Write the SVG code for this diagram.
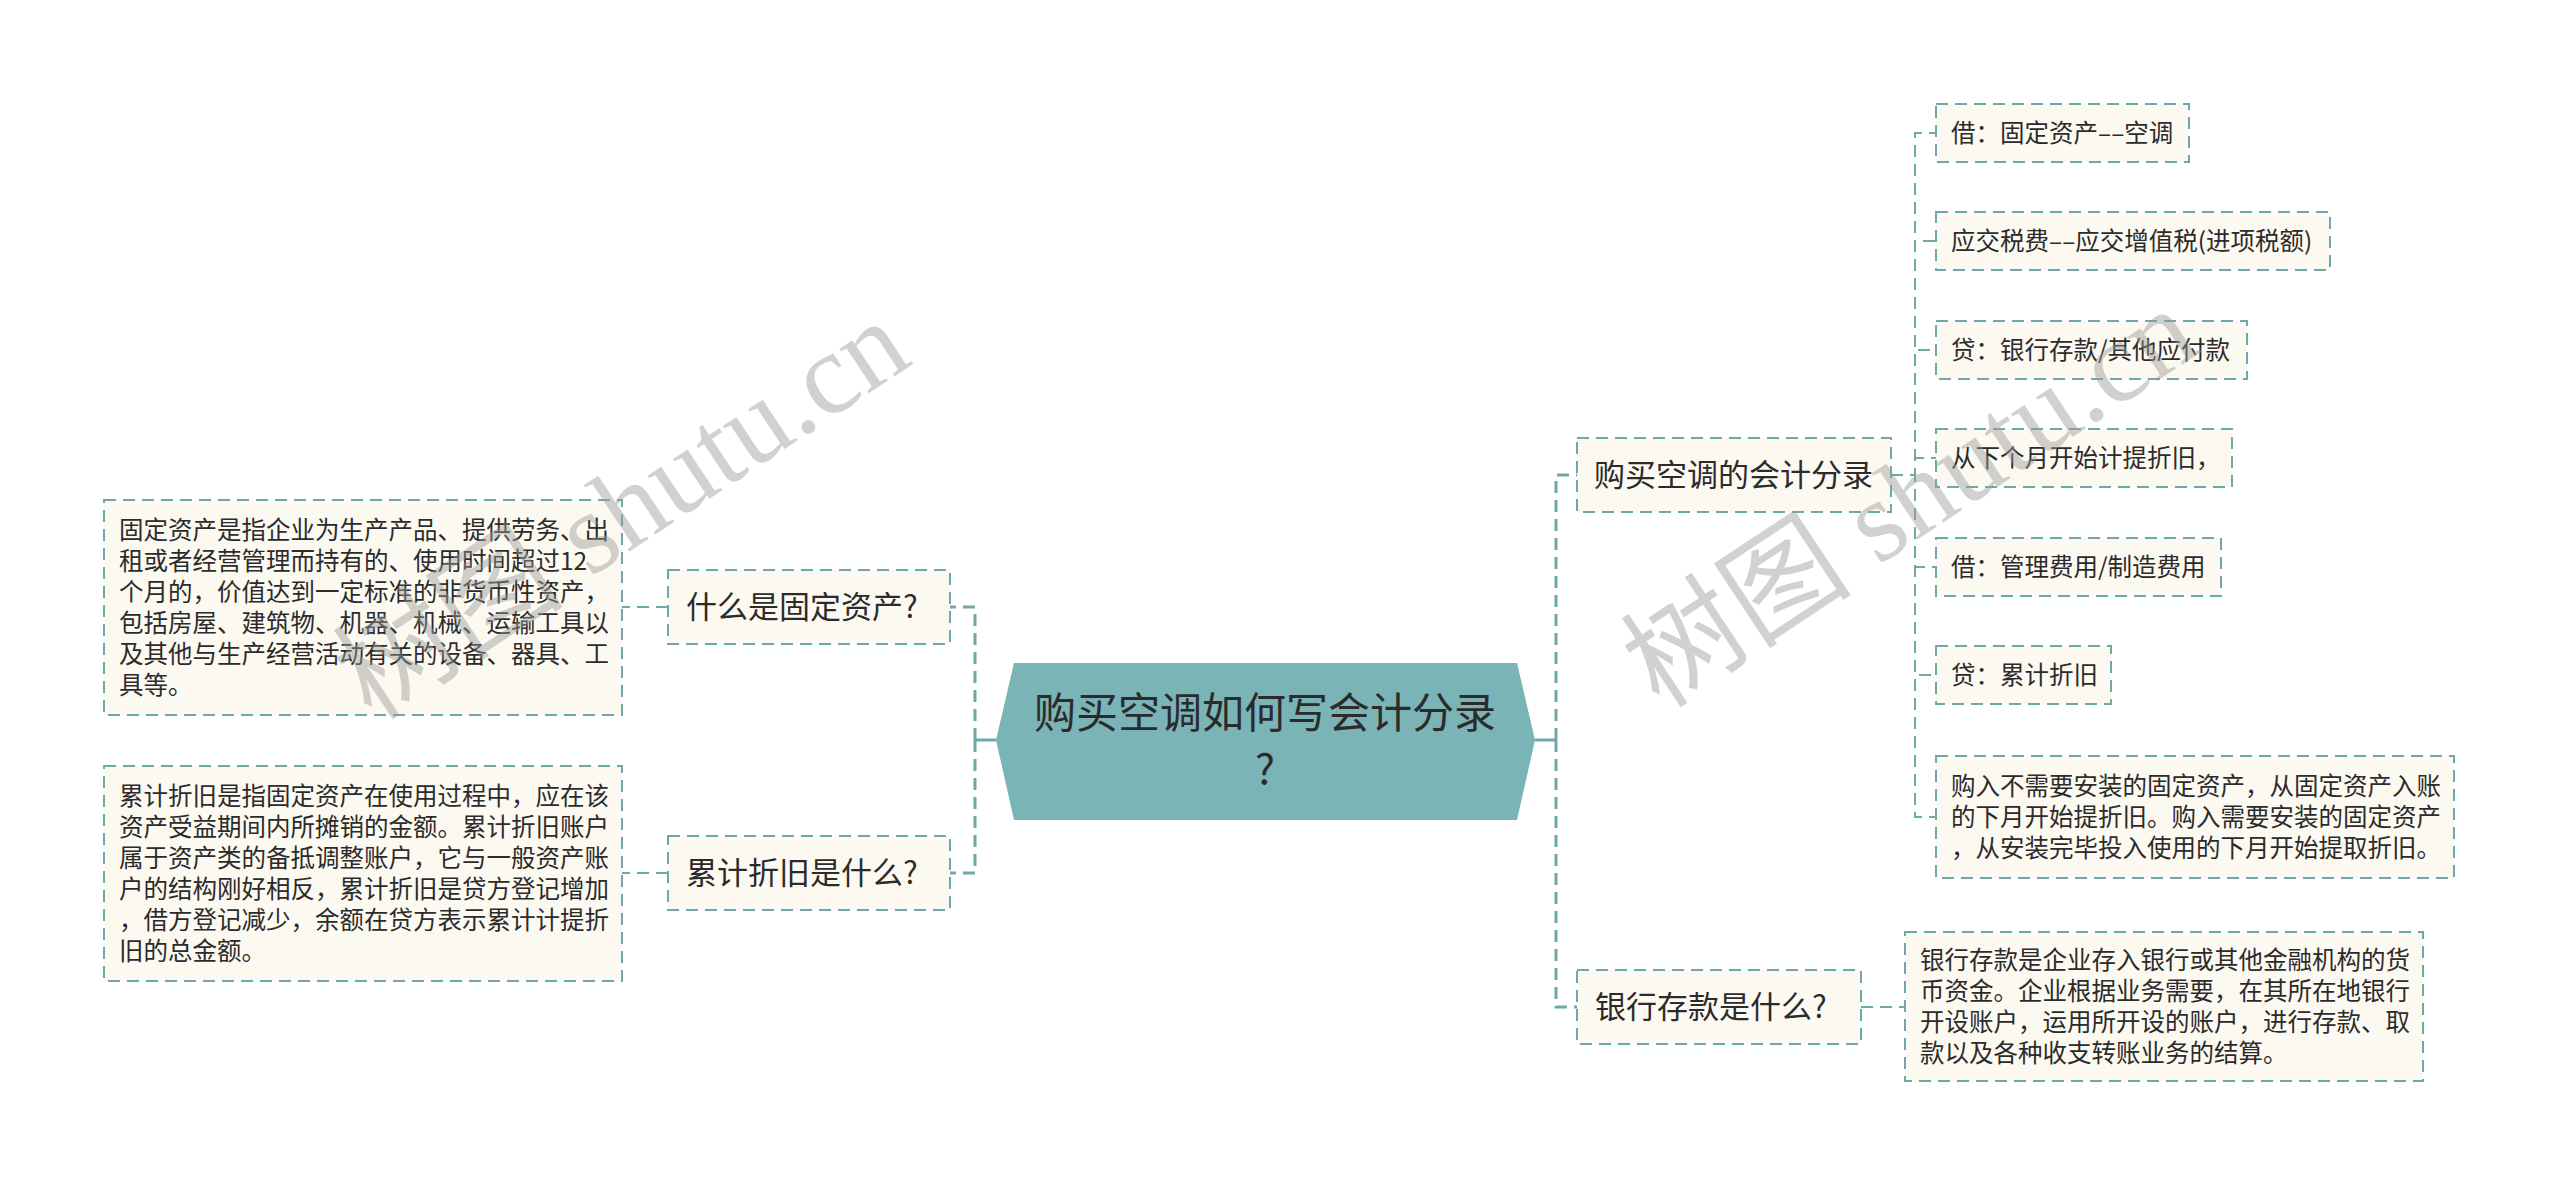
<svg xmlns="http://www.w3.org/2000/svg" width="2560" height="1187" viewBox="0 0 2560 1187">
<style>
text{font-family:"Noto Sans CJK SC","Noto Sans",sans-serif;fill:#2b2b2b}
.box{fill:#fcf9f1;stroke:#6fa8a9;stroke-width:2;stroke-dasharray:12 7}
.t1{font-size:31px}
.t2{font-size:24.5px}
.c{fill:none;stroke:#6fa8a9;stroke-width:2;stroke-dasharray:12 7}
.cm{fill:none;stroke:#6fa8a9;stroke-width:3;stroke-dasharray:12 7}
.cs{fill:none;stroke:#6fa8a9;stroke-width:3}
.wm{font-family:"Liberation Serif","Noto Sans CJK SC",serif;font-size:116px;fill:#9a9a9a;fill-opacity:0.45}
</style>
<rect width="2560" height="1187" fill="#ffffff"/>
<g id="connectors">
<path class="cs" d="M996,740 H975"/>
<path class="cm" d="M975,740 V607 H950"/>
<path class="cm" d="M975,740 V873 H950"/>
<path class="c" d="M668,607 H622"/>
<path class="c" d="M668,873 H622"/>
<path class="cs" d="M1535,740 H1556"/>
<path class="cm" d="M1556,740 V475 H1577"/>
<path class="cm" d="M1556,740 V1007 H1577"/>
<path class="c" d="M1861,1007 H1905"/>
<path class="c" d="M1891,475 H1915 V133 H1936"/>
<path class="c" d="M1891,475 H1915 V241 H1936"/>
<path class="c" d="M1891,475 H1915 V350 H1936"/>
<path class="c" d="M1891,475 H1915 V458 H1936"/>
<path class="c" d="M1891,475 H1915 V567 H1936"/>
<path class="c" d="M1891,475 H1915 V675 H1936"/>
<path class="c" d="M1891,475 H1915 V817 H1936"/>
</g>
<g id="root">
<polygon points="1014,663 1517,663 1535,740 1517,820 1014,820 996,740" fill="#7bb4b6"/>
<text x="1265" y="728" font-size="42" text-anchor="middle">购买空调如何写会计分录</text>
<text x="1265" y="784" font-size="42" text-anchor="middle">?</text>
</g>
<g id="n-gdzc">
<rect class="box" x="668" y="570" width="282" height="74"/>
<text class="t1" x="686" y="618">什么是固定资产?</text>
</g>
<g id="n-ljzj">
<rect class="box" x="668" y="836" width="282" height="74"/>
<text class="t1" x="686" y="884">累计折旧是什么?</text>
</g>
<g id="tb-gdzc">
<rect class="box" x="104" y="500" width="518" height="215"/>
<text class="t2" x="119"><tspan x="119" y="539">固定资产是指企业为生产产品、提供劳务、出</tspan><tspan x="119" y="570">租或者经营管理而持有的、使用时间超过12</tspan><tspan x="119" y="601">个月的，价值达到一定标准的非货币性资产，</tspan><tspan x="119" y="632">包括房屋、建筑物、机器、机械、运输工具以</tspan><tspan x="119" y="663">及其他与生产经营活动有关的设备、器具、工</tspan><tspan x="119" y="694">具等。</tspan></text>
</g>
<g id="tb-ljzj">
<rect class="box" x="104" y="766" width="518" height="215"/>
<text class="t2" x="119"><tspan x="119" y="805">累计折旧是指固定资产在使用过程中，应在该</tspan><tspan x="119" y="836">资产受益期间内所摊销的金额。累计折旧账户</tspan><tspan x="119" y="867">属于资产类的备抵调整账户，它与一般资产账</tspan><tspan x="119" y="898">户的结构刚好相反，累计折旧是贷方登记增加</tspan><tspan x="119" y="929">，借方登记减少，余额在贷方表示累计计提折</tspan><tspan x="119" y="960">旧的总金额。</tspan></text>
</g>
<g id="n-kjfl">
<rect class="box" x="1577" y="438" width="314" height="74"/>
<text class="t1" x="1594" y="486">购买空调的会计分录</text>
</g>
<g id="n-yhck">
<rect class="box" x="1577" y="970" width="284" height="74"/>
<text class="t1" x="1595" y="1018">银行存款是什么?</text>
</g>
<g id="tb-yhck">
<rect class="box" x="1905" y="932" width="518" height="149"/>
<text class="t2" x="1920"><tspan x="1920" y="969">银行存款是企业存入银行或其他金融机构的货</tspan><tspan x="1920" y="1000">币资金。企业根据业务需要，在其所在地银行</tspan><tspan x="1920" y="1031">开设账户，运用所开设的账户，进行存款、取</tspan><tspan x="1920" y="1062">款以及各种收支转账业务的结算。</tspan></text>
</g>
<g id="c1">
<rect class="box" x="1936" y="104" width="253" height="58"/>
<text class="t2" x="1951" y="142">借：固定资产––空调</text>
</g>
<g id="c2">
<rect class="box" x="1936" y="212" width="394" height="58"/>
<text class="t2" x="1951" y="250">应交税费––应交增值税(进项税额)</text>
</g>
<g id="c3">
<rect class="box" x="1936" y="321" width="311" height="58"/>
<text class="t2" x="1951" y="359">贷：银行存款/其他应付款</text>
</g>
<g id="c4">
<rect class="box" x="1936" y="429" width="296" height="58"/>
<text class="t2" x="1951" y="467">从下个月开始计提折旧，</text>
</g>
<g id="c5">
<rect class="box" x="1936" y="538" width="285" height="58"/>
<text class="t2" x="1951" y="576">借：管理费用/制造费用</text>
</g>
<g id="c6">
<rect class="box" x="1936" y="646" width="175" height="58"/>
<text class="t2" x="1951" y="684">贷：累计折旧</text>
</g>
<g id="c7">
<rect class="box" x="1936" y="756" width="518" height="122"/>
<text class="t2" x="1951"><tspan x="1951" y="795">购入不需要安装的固定资产，从固定资产入账</tspan><tspan x="1951" y="826">的下月开始提折旧。购入需要安装的固定资产</tspan><tspan x="1951" y="857">，从安装完毕投入使用的下月开始提取折旧。</tspan></text>
</g>
<g id="watermark">
<text class="wm" transform="translate(372,722) rotate(-33.5)">树图 shutu.cn</text>
<text class="wm" transform="translate(1660,710) rotate(-33.5)">树图 shutu.cn</text>
</g>
</svg>
